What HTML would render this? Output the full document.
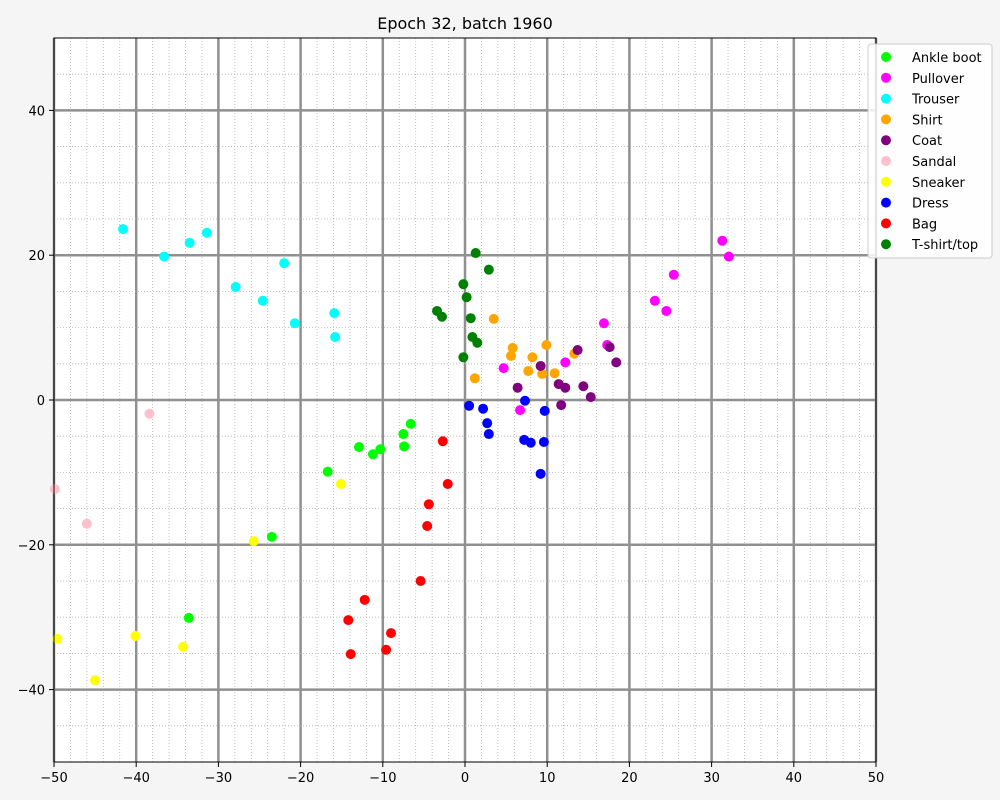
<!DOCTYPE html>
<html><head><meta charset="utf-8"><style>
html,body{margin:0;padding:0;background:#f5f5f5;}
svg{display:block;font-family:"DejaVu Sans","Liberation Sans",sans-serif;}
</style></head><body>
<svg id="chart" width="1000" height="800">
<rect x="0" y="0" width="1000" height="800" fill="#f5f5f5"/>
<rect x="54" y="38" width="822" height="724" fill="#fff"/>
<g id="grid"></g>
<g id="points"></g>
<rect x="54" y="38" width="822" height="724" fill="none" stroke="#000" stroke-width="1"/>
<g id="ticks"></g>
<text x="465" y="29" text-anchor="middle" font-size="16">Epoch 32, batch 1960</text>
<g id="legend"></g>
</svg>
<script>
const classes=["Ankle boot","Pullover","Trouser","Shirt","Coat","Sandal","Sneaker","Dress","Bag","T-shirt/top"];
const colors=["#00ff00","#ff00ff","#00ffff","#ffa500","#800080","#ffc0cb","#ffff00","#0000ff","#ff0000","#008000"];
const xTicks=[-50,-40,-30,-20,-10,0,10,20,30,40,50];
const yTicks=[-40,-20,0,20,40];
const ankleBoot=[[-6.6,-3.3],[-7.5,-4.7],[-7.4,-6.4],[-12.9,-6.5],[-10.3,-6.8],[-11.2,-7.5],[-16.7,-9.9],[-23.5,-18.9],[-33.6,-30.1]];
const pullover=[[32.1,19.8],[31.3,22.0],[25.4,17.3],[23.1,13.7],[24.5,12.3],[16.9,10.6],[17.3,7.6],[12.2,5.2],[4.7,4.4],[6.7,-1.4]];
const trouser=[[-41.6,23.6],[-36.6,19.8],[-33.5,21.7],[-31.4,23.1],[-27.9,15.6],[-24.6,13.7],[-22.0,18.9],[-20.7,10.6],[-15.9,12.0],[-15.8,8.7]];
const shirt=[[3.5,11.2],[9.9,7.6],[5.8,7.2],[5.6,6.1],[8.2,5.9],[13.3,6.4],[7.7,4.0],[10.9,3.7],[9.4,3.6],[1.2,3.0]];
const coat=[[13.7,6.9],[17.6,7.3],[18.4,5.2],[9.2,4.7],[6.4,1.7],[11.4,2.2],[12.2,1.7],[14.4,1.9],[15.3,0.4],[11.7,-0.7]];
const sandal=[[-49.9,-12.3],[-46.0,-17.1],[-38.4,-1.9]];
const sneaker=[[-49.6,-33.0],[-45.0,-38.7],[-40.1,-32.6],[-34.3,-34.1],[-25.7,-19.5],[-15.1,-11.6]];
const dress=[[0.5,-0.8],[2.2,-1.2],[2.7,-3.2],[2.9,-4.7],[7.3,-0.1],[9.7,-1.5],[7.2,-5.5],[8.0,-5.9],[9.6,-5.8],[9.2,-10.2]];
const bag=[[-2.7,-5.7],[-2.1,-11.6],[-4.4,-14.4],[-4.6,-17.4],[-5.4,-25.0],[-12.2,-27.6],[-14.2,-30.4],[-9.0,-32.2],[-13.9,-35.1],[-9.6,-34.5]];
const tshirt=[[1.3,20.3],[2.9,18.0],[-0.2,16.0],[0.2,14.2],[-3.4,12.3],[-2.8,11.5],[0.7,11.3],[0.9,8.7],[1.5,7.9],[-0.2,5.9]];
const series=[ankleBoot,pullover,trouser,shirt,coat,sandal,sneaker,dress,bag,tshirt];
const NS="http://www.w3.org/2000/svg";
const X=v=>54+(v+50)*822/100;
const Y=v=>762-(v+50)*724/100;
function mk(tag,attrs,parent){const e=document.createElementNS(NS,tag);for(const k in attrs)e.setAttribute(k,attrs[k]);parent.appendChild(e);return e;}
const grid=document.getElementById('grid');
for(let v=-50;v<=50;v+=2){
  const major=Math.abs(v%10)<1e-9;
  const lv=mk('line',{x1:X(v),x2:X(v),y1:38,y2:762,stroke:major?'#909090':'#b0b0b0','stroke-width':major?2.5:0.8,'stroke-dasharray':major?'none':'1,2'},grid);
  
  
}
for(let v=-50;v<=50;v+=5){
  const major=Math.abs(v%20)<1e-9;
  const lh=mk('line',{x1:54,x2:876,y1:Y(v),y2:Y(v),stroke:major?'#909090':'#b0b0b0','stroke-width':major?2.5:0.8,'stroke-dasharray':major?'none':'1,2'},grid);
  
  
}
const pts=document.getElementById('points');
series.forEach((s,i)=>s.forEach(p=>{
  const c=mk('circle',{cx:X(p[0]),cy:Y(p[1]),r:5,fill:colors[i]},pts);
  
  
}));
const ticks=document.getElementById('ticks');
xTicks.forEach(v=>{
  const l=mk('line',{x1:X(v),x2:X(v),y1:762,y2:767,stroke:'#000'},ticks);
  
  
  const t=mk('text',{x:X(v),y:782,'text-anchor':'middle','font-size':13},ticks);
  t.textContent=v<0?'\u2212'+(-v):String(v);
  
  
});
yTicks.forEach(v=>{
  const l=mk('line',{x1:49,x2:54,y1:Y(v),y2:Y(v),stroke:'#000'},ticks);
  
  
  const t=mk('text',{x:45,y:Y(v)+5,'text-anchor':'end','font-size':13},ticks);
  t.textContent=v<0?'\u2212'+(-v):String(v);
  
  
});
const lg=document.getElementById('legend');
const box=mk('rect',{x:868,y:44,width:124,height:214,rx:3,fill:'#fff','fill-opacity':0.85,stroke:'#ccc'},lg);


classes.forEach((c,i)=>{
  const y=57+i*20.8;
  const m=mk('circle',{cx:886,cy:y,r:5,fill:colors[i]},lg);
  
  
  const t=mk('text',{x:912,y:y+5,'font-size':13},lg);
  t.textContent=c;
  
  
});
</script>
</body></html>
